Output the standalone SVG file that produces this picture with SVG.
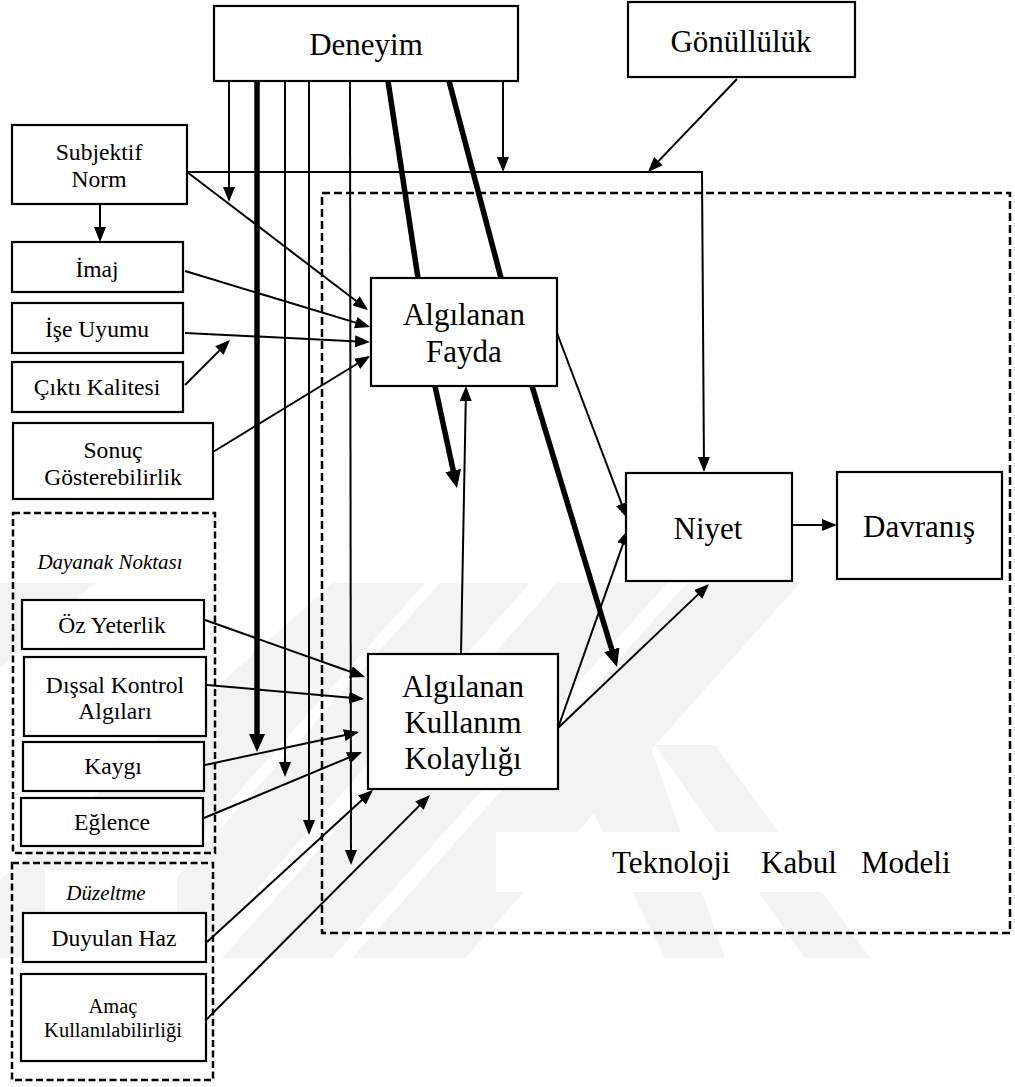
<svg xmlns="http://www.w3.org/2000/svg" width="1015" height="1087" viewBox="0 0 1015 1087">
  <style>
    text { font-family: "Liberation Serif", "Times New Roman", serif; fill: #000; text-anchor: middle; }
    .big { font-size: 31px; }
    .sm { font-size: 23.6px; }
    .xs { font-size: 20.5px; }
    .it { font-size: 21px; font-style: italic; }
    .box { fill: #fff; stroke: #000; stroke-width: 2.2; }
    .grp { fill: none; stroke: #000; stroke-width: 2.5; stroke-dasharray: 7 3.5; }
    .tam { fill: none; stroke: #000; stroke-width: 2.5; stroke-dasharray: 8 4; }
    .ln { fill: none; stroke: #000; stroke-width: 2; }
    .arr { marker-end: url(#ah); }
    .tk { fill: none; stroke: #000; stroke-width: 5.5; }
    .tkarr { marker-end: url(#ahb); }
    .wm { fill: #f3f3f3; }
  </style>
  <defs>
    <marker id="ah" markerUnits="userSpaceOnUse" markerWidth="15" markerHeight="12" viewBox="0 0 15 12" refX="13" refY="6" orient="auto">
      <path d="M0,0 L15,6 L0,12 z" fill="#000"/>
    </marker>
    <marker id="ahb" markerUnits="userSpaceOnUse" markerWidth="18" markerHeight="16" viewBox="0 0 18 16" refX="11" refY="8" orient="auto">
      <path d="M0,0 L18,8 L0,16 z" fill="#000"/>
    </marker>
  </defs>

  <rect width="1015" height="1087" fill="#fff"/>

  <!-- faint background watermark bands -->
  <g id="watermark">
    <polygon class="wm" points="0,583 95,583 0,668"/>
    <polygon class="wm" points="333,583 425,583 90,958 0,958 0,880"/>
    <polygon class="wm" points="440,583 530,583 195,958 105,958"/>
    <polygon class="wm" points="557,583 667,583 332,958 222,958"/>
    <polygon class="wm" points="687,583 800,583 465,958 352,958"/>
    <polygon class="wm" points="560,745 650,745 725,958 665,958"/>
    <polygon class="wm" points="655,745 715,745 870,958 805,958"/>
    <!-- white label grounds -->
    <rect x="496" y="832" width="484" height="60" fill="#fff"/>
    <rect x="45" y="870" width="132" height="42" fill="#fff"/>
  </g>

  <!-- group frames -->
  <g id="groups">
    <rect id="tam-frame" class="tam" x="322" y="193" width="688" height="740"/>
    <text class="big" x="612" y="873" style="text-anchor:start">Teknoloji</text>
    <text class="big" x="761" y="873" style="text-anchor:start">Kabul</text>
    <text class="big" x="861" y="873" style="text-anchor:start">Modeli</text>
    <rect id="dayanak-frame" class="grp" x="13" y="513" width="202" height="340"/>
    <text class="it" x="110" y="569">Dayanak Noktası</text>
    <rect id="duzeltme-frame" class="grp" x="12" y="863" width="201" height="217"/>
    <text class="it" x="106" y="900">Düzeltme</text>
  </g>

  <!-- connectors -->
  <g id="connectors">
    <!-- from Deneyim -->
    <path class="ln arr" d="M229,81 V200"/>
    <path class="tk tkarr" d="M257,81 V745"/>
    <path class="ln arr" d="M285,81 V775"/>
    <path class="ln arr" d="M309,81 V833"/>
    <path class="ln arr" d="M350,81 L351,863"/>
    <path class="tk" d="M388,81 L418,278"/>
    <path class="tk" d="M449,81 L501,278"/>
    <path class="ln arr" d="M503,81 V170"/>
    <!-- from Gönüllülük -->
    <path class="ln arr" d="M737,79 L649.4,170.6"/>
    <!-- from Subjektif Norm -->
    <path class="ln arr" d="M187,172 H702 L704,470"/>
    <path class="ln arr" d="M187,172 L366.4,308.8"/>
    <path class="ln arr" d="M100,204 V240"/>
    <!-- into Algılanan Fayda -->
    <path class="ln arr" d="M185,271 L368.1,326.4"/>
    <path class="ln arr" d="M185,333 L368,341.9"/>
    <path class="ln arr" d="M185,385 L228.6,341.4"/>
    <path class="ln arr" d="M213,452 L368.3,357"/>
    <!-- Fayda / Kullanım / Niyet -->
    <path class="ln arr" d="M557,333 L626.3,516.1"/>
    <path class="ln arr" d="M558,728 L627.3,531.9"/>
    <path class="ln arr" d="M558,728 L707.6,585.4"/>
    <path class="ln arr" d="M792,525 H835"/>
    <path class="ln arr" d="M461,654 L466,388"/>
    <path class="tk tkarr" d="M435,386 L455.5,481.2"/>
    <path class="tk tkarr" d="M532,386 L615,660.3"/>
    <!-- into Algılanan Kullanım Kolaylığı -->
    <path class="ln arr" d="M205,620 L363.1,676.3"/>
    <path class="ln arr" d="M207,685 L362,698.8"/>
    <path class="ln arr" d="M205,765 L357,732.4"/>
    <path class="ln arr" d="M204,818 L360.2,752.8"/>
    <path class="ln arr" d="M207,942 L371.5,791.3"/>
    <path class="ln arr" d="M204,1022 L428.6,796.4"/>
  </g>

  <!-- nodes -->
  <g id="deneyim">
    <rect class="box" x="214" y="6" width="304" height="75"/>
    <text class="big" x="366" y="55">Deneyim</text>
  </g>
  <g id="gonulluluk">
    <rect class="box" x="628" y="2" width="227" height="75"/>
    <text class="big" x="741" y="52">Gönüllülük</text>
  </g>
  <g id="subjektif-norm">
    <rect class="box" x="12" y="125" width="175" height="79"/>
    <text class="sm" x="99" y="160">Subjektif</text>
    <text class="sm" x="99" y="187">Norm</text>
  </g>
  <g id="imaj">
    <rect class="box" x="12" y="242" width="171" height="50"/>
    <text class="sm" x="97" y="277">İmaj</text>
  </g>
  <g id="ise-uyumu">
    <rect class="box" x="12" y="303" width="171" height="50"/>
    <text class="sm" x="97" y="337">İşe Uyumu</text>
  </g>
  <g id="cikti-kalitesi">
    <rect class="box" x="12" y="362" width="171" height="50"/>
    <text class="sm" x="97" y="395">Çıktı Kalitesi</text>
  </g>
  <g id="sonuc-gosterebilirlik">
    <rect class="box" x="13" y="423" width="200" height="76"/>
    <text class="sm" x="113" y="458">Sonuç</text>
    <text class="sm" x="113" y="485">Gösterebilirlik</text>
  </g>
  <g id="oz-yeterlik">
    <rect class="box" x="22" y="600" width="182" height="49"/>
    <text class="sm" x="112" y="633">Öz Yeterlik</text>
  </g>
  <g id="dissal-kontrol">
    <rect class="box" x="24" y="657" width="182" height="79"/>
    <text class="sm" x="115" y="693">Dışsal Kontrol</text>
    <text class="sm" x="115" y="719">Algıları</text>
  </g>
  <g id="kaygi">
    <rect class="box" x="23" y="742" width="181" height="49"/>
    <text class="sm" x="113" y="774">Kaygı</text>
  </g>
  <g id="eglence">
    <rect class="box" x="21" y="798" width="182" height="48"/>
    <text class="sm" x="112" y="830">Eğlence</text>
  </g>
  <g id="duyulan-haz">
    <rect class="box" x="23" y="913" width="183" height="49"/>
    <text class="sm" x="114" y="946">Duyulan Haz</text>
  </g>
  <g id="amac-kullanilabilirligi">
    <rect class="box" x="21" y="974" width="185" height="87"/>
    <text class="xs" x="113" y="1013">Amaç</text>
    <text class="xs" x="113" y="1037">Kullanılabilirliği</text>
  </g>
  <g id="algilanan-fayda">
    <rect class="box" x="371" y="278" width="186" height="108"/>
    <text class="big" x="464" y="325">Algılanan</text>
    <text class="big" x="464" y="362">Fayda</text>
  </g>
  <g id="algilanan-kullanim-kolayligi">
    <rect class="box" x="368" y="654" width="190" height="135"/>
    <text class="big" x="463" y="697">Algılanan</text>
    <text class="big" x="463" y="733">Kullanım</text>
    <text class="big" x="463" y="769">Kolaylığı</text>
  </g>
  <g id="niyet">
    <rect class="box" x="626" y="473" width="166" height="108"/>
    <text class="big" x="708" y="539">Niyet</text>
  </g>
  <g id="davranis">
    <rect class="box" x="837" y="472" width="165" height="107"/>
    <text class="big" x="919" y="537">Davranış</text>
  </g>
</svg>
